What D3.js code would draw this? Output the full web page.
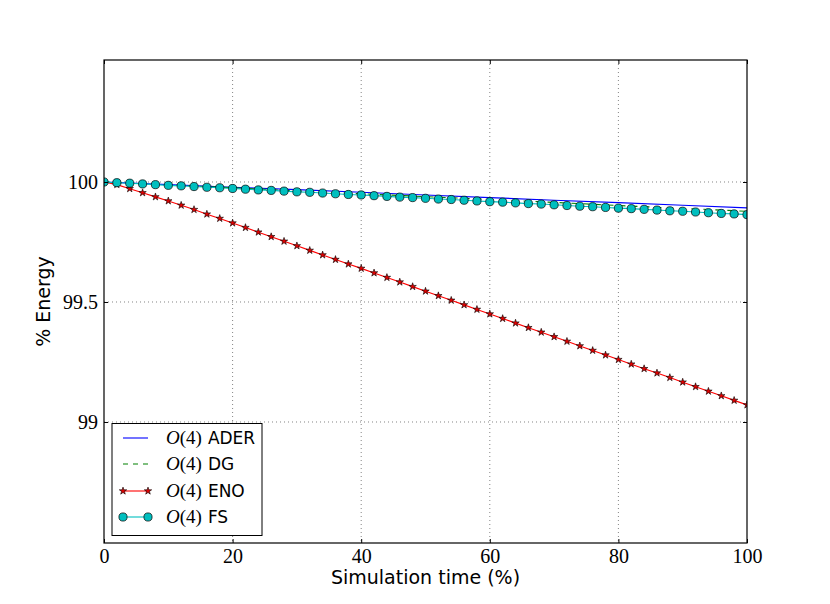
<!DOCTYPE html>
<html><head><meta charset="utf-8">
<script src="https://cdn.jsdelivr.net/npm/d3@7"></script>
<style>body{margin:0;background:#fff}svg{display:block}</style>
</head><body>
<script>
// ---- data ----
const xTicks = [0, 20, 40, 60, 80, 100];
const yTicks = [99, 99.5, 100];
const yTickLabels = ["99", "99.5", "100"];
const seriesNames = ["ADER", "DG", "ENO", "FS"];

const tLine = [0, 10, 20, 30, 40, 50, 60, 70, 80, 90, 100];
const ader = [100.000, 99.989, 99.978, 99.968, 99.957, 99.946, 99.935, 99.924, 99.914, 99.903, 99.892];
const dg   = [100.000, 99.988, 99.976, 99.963, 99.951, 99.939, 99.927, 99.915, 99.902, 99.890, 99.878];

const tMark = [0,2,4,6,8,10,12,14,16,18,20,22,24,26,28,30,32,34,36,38,40,42,44,46,48,50,
               52,54,56,58,60,62,64,66,68,70,72,74,76,78,80,82,84,86,88,90,92,94,96,98,100];
const eno = [100.000, 99.989, 99.972, 99.955, 99.938, 99.921, 99.903, 99.885, 99.866, 99.848,
             99.829, 99.810, 99.791, 99.772, 99.753, 99.734, 99.715, 99.696, 99.677, 99.658,
             99.640, 99.621, 99.602, 99.583, 99.564, 99.545, 99.526, 99.507, 99.488, 99.469,
             99.450, 99.431, 99.412, 99.393, 99.374, 99.355, 99.336, 99.317, 99.298, 99.279,
             99.260, 99.241, 99.222, 99.204, 99.185, 99.166, 99.147, 99.128, 99.109, 99.090, 99.071];
const fs  = [100.000, 99.997, 99.995, 99.992, 99.989, 99.986, 99.984, 99.981, 99.978, 99.976,
             99.973, 99.970, 99.967, 99.965, 99.962, 99.959, 99.957, 99.954, 99.951, 99.948,
             99.946, 99.943, 99.940, 99.937, 99.935, 99.932, 99.929, 99.927, 99.924, 99.921,
             99.918, 99.916, 99.913, 99.910, 99.908, 99.905, 99.902, 99.899, 99.897, 99.894,
             99.891, 99.889, 99.886, 99.883, 99.880, 99.878, 99.875, 99.872, 99.869, 99.867, 99.864];

// ---- layout ----
const W = 830, H = 604;
const L = 104, R = 747, T = 60, B = 543;
const svg = d3.select("body").append("svg").attr("width", W).attr("height", H);

const x = d3.scaleLinear().domain([0, 100]).range([L, R]);
const y = d3.scaleLinear().domain([98.4958, 100.5083]).range([B, T]);

const serif = "'Liberation Serif', 'DejaVu Serif', serif";
const sans = "'DejaVu Sans', sans-serif";

// grid
const grid = svg.append("g").attr("stroke", "#000").attr("stroke-width", 0.8)
  .attr("stroke-dasharray", "1,3").attr("opacity", 0.6);
grid.selectAll(".gx").data(xTicks.slice(1, -1)).join("line")
  .attr("x1", d => x(d)).attr("x2", d => x(d)).attr("y1", T).attr("y2", B);
grid.selectAll(".gy").data(yTicks).join("line")
  .attr("x1", L).attr("x2", R).attr("y1", d => y(d)).attr("y2", d => y(d));

// clip
svg.append("clipPath").attr("id", "clip").append("rect")
  .attr("x", L).attr("y", T).attr("width", R - L).attr("height", B - T);
const plot = svg.append("g").attr("clip-path", "url(#clip)");

const line = d3.line().x(d => x(d[0])).y(d => y(d[1]));
const zip = (a, b) => a.map((v, i) => [v, b[i]]);

const colors = { ADER: "#0000ff", DG: "#008000", ENO: "#ff0000", FS: "#00bfbf" };

plot.append("path").datum(zip(tLine, ader)).attr("d", line)
  .attr("fill", "none").attr("stroke", colors.ADER).attr("stroke-width", 1.1);
plot.append("path").datum(zip(tLine, dg)).attr("d", line)
  .attr("fill", "none").attr("stroke", colors.DG).attr("stroke-width", 1.1)
  .attr("stroke-dasharray", "6,6");

const star = d3.symbol().type(d3.symbolStar).size(17);
plot.append("path").datum(zip(tMark, eno)).attr("d", line)
  .attr("fill", "none").attr("stroke", colors.ENO).attr("stroke-width", 1.1);
plot.selectAll(".star").data(zip(tMark, eno)).join("path")
  .attr("d", star).attr("transform", d => `translate(${x(d[0])},${y(d[1])})`)
  .attr("fill", "#e00000").attr("stroke", "#000").attr("stroke-width", 0.6);

plot.append("path").datum(zip(tMark, fs)).attr("d", line)
  .attr("fill", "none").attr("stroke", colors.FS).attr("stroke-width", 1.1);
plot.selectAll(".circ").data(zip(tMark, fs)).join("circle")
  .attr("cx", d => x(d[0])).attr("cy", d => y(d[1])).attr("r", 4.1)
  .attr("fill", colors.FS).attr("stroke", "#000").attr("stroke-width", 0.7);

// axes
function styleAxis(g) {
  g.select(".domain").remove();
  g.selectAll(".tick line").attr("stroke", "#000").attr("stroke-width", 1);
  g.selectAll(".tick text").attr("font-family", serif).attr("font-size", 20).attr("fill", "#000");
}
svg.append("g").attr("transform", `translate(0,${B})`)
  .call(d3.axisBottom(x).tickValues(xTicks).tickFormat(d3.format("d"))
    .tickSizeInner(-4).tickSizeOuter(0).tickPadding(6)).call(styleAxis);
svg.append("g").attr("transform", `translate(0,${T})`)
  .call(d3.axisTop(x).tickValues(xTicks).tickFormat("")
    .tickSizeInner(-4).tickSizeOuter(0)).call(styleAxis);
svg.append("g").attr("transform", `translate(${L},0)`)
  .call(d3.axisLeft(y).tickValues(yTicks).tickFormat((d, i) => yTickLabels[i])
    .tickSizeInner(-4).tickSizeOuter(0).tickPadding(6)).call(styleAxis);
svg.append("g").attr("transform", `translate(${R},0)`)
  .call(d3.axisRight(y).tickValues(yTicks).tickFormat("")
    .tickSizeInner(-4).tickSizeOuter(0)).call(styleAxis);

// frame
svg.append("rect").attr("x", L).attr("y", T).attr("width", R - L).attr("height", B - T)
  .attr("fill", "none").attr("stroke", "#000").attr("stroke-width", 1.2);

// axis labels
svg.append("text").attr("x", (L + R) / 2).attr("y", 584).attr("text-anchor", "middle")
  .attr("font-family", sans).attr("font-size", 19).text("Simulation time (%)");
svg.append("text").attr("transform", `translate(50,${(T + B) / 2}) rotate(-90)`)
  .attr("text-anchor", "middle").attr("font-family", sans).attr("font-size", 19).text("% Energy");

// legend
const lg = svg.append("g");
lg.append("rect").attr("x", 112).attr("y", 423.5).attr("width", 150).attr("height", 112)
  .attr("fill", "#fff").attr("stroke", "#000").attr("stroke-width", 1);
const rowY = [438, 464, 491, 517];
seriesNames.forEach((name, i) => {
  const yy = rowY[i];
  const ln = lg.append("line").attr("x1", 123).attr("x2", 148).attr("y1", yy).attr("y2", yy)
    .attr("stroke", colors[name]).attr("stroke-width", 1.1);
  if (name === "DG") ln.attr("stroke-dasharray", "5,5");
  if (name === "ENO") {
    [123, 148].forEach(px => lg.append("path").attr("d", star)
      .attr("transform", `translate(${px},${yy})`).attr("fill", "#e00000")
      .attr("stroke", "#000").attr("stroke-width", 0.6));
  }
  if (name === "FS") {
    [123, 148].forEach(px => lg.append("circle").attr("cx", px).attr("cy", yy).attr("r", 4.1)
      .attr("fill", colors.FS).attr("stroke", "#000").attr("stroke-width", 0.7));
  }
  const t = lg.append("text").attr("x", 166).attr("y", yy + 6).attr("fill", "#000");
  t.append("tspan").attr("font-family", serif).attr("font-style", "italic").attr("font-size", 19).text("O");
  t.append("tspan").attr("font-family", serif).attr("font-size", 19).text("(4)");
  t.append("tspan").attr("font-family", sans).attr("font-size", 17).attr("dx", 6).text(name);
});
</script>
</body></html>
